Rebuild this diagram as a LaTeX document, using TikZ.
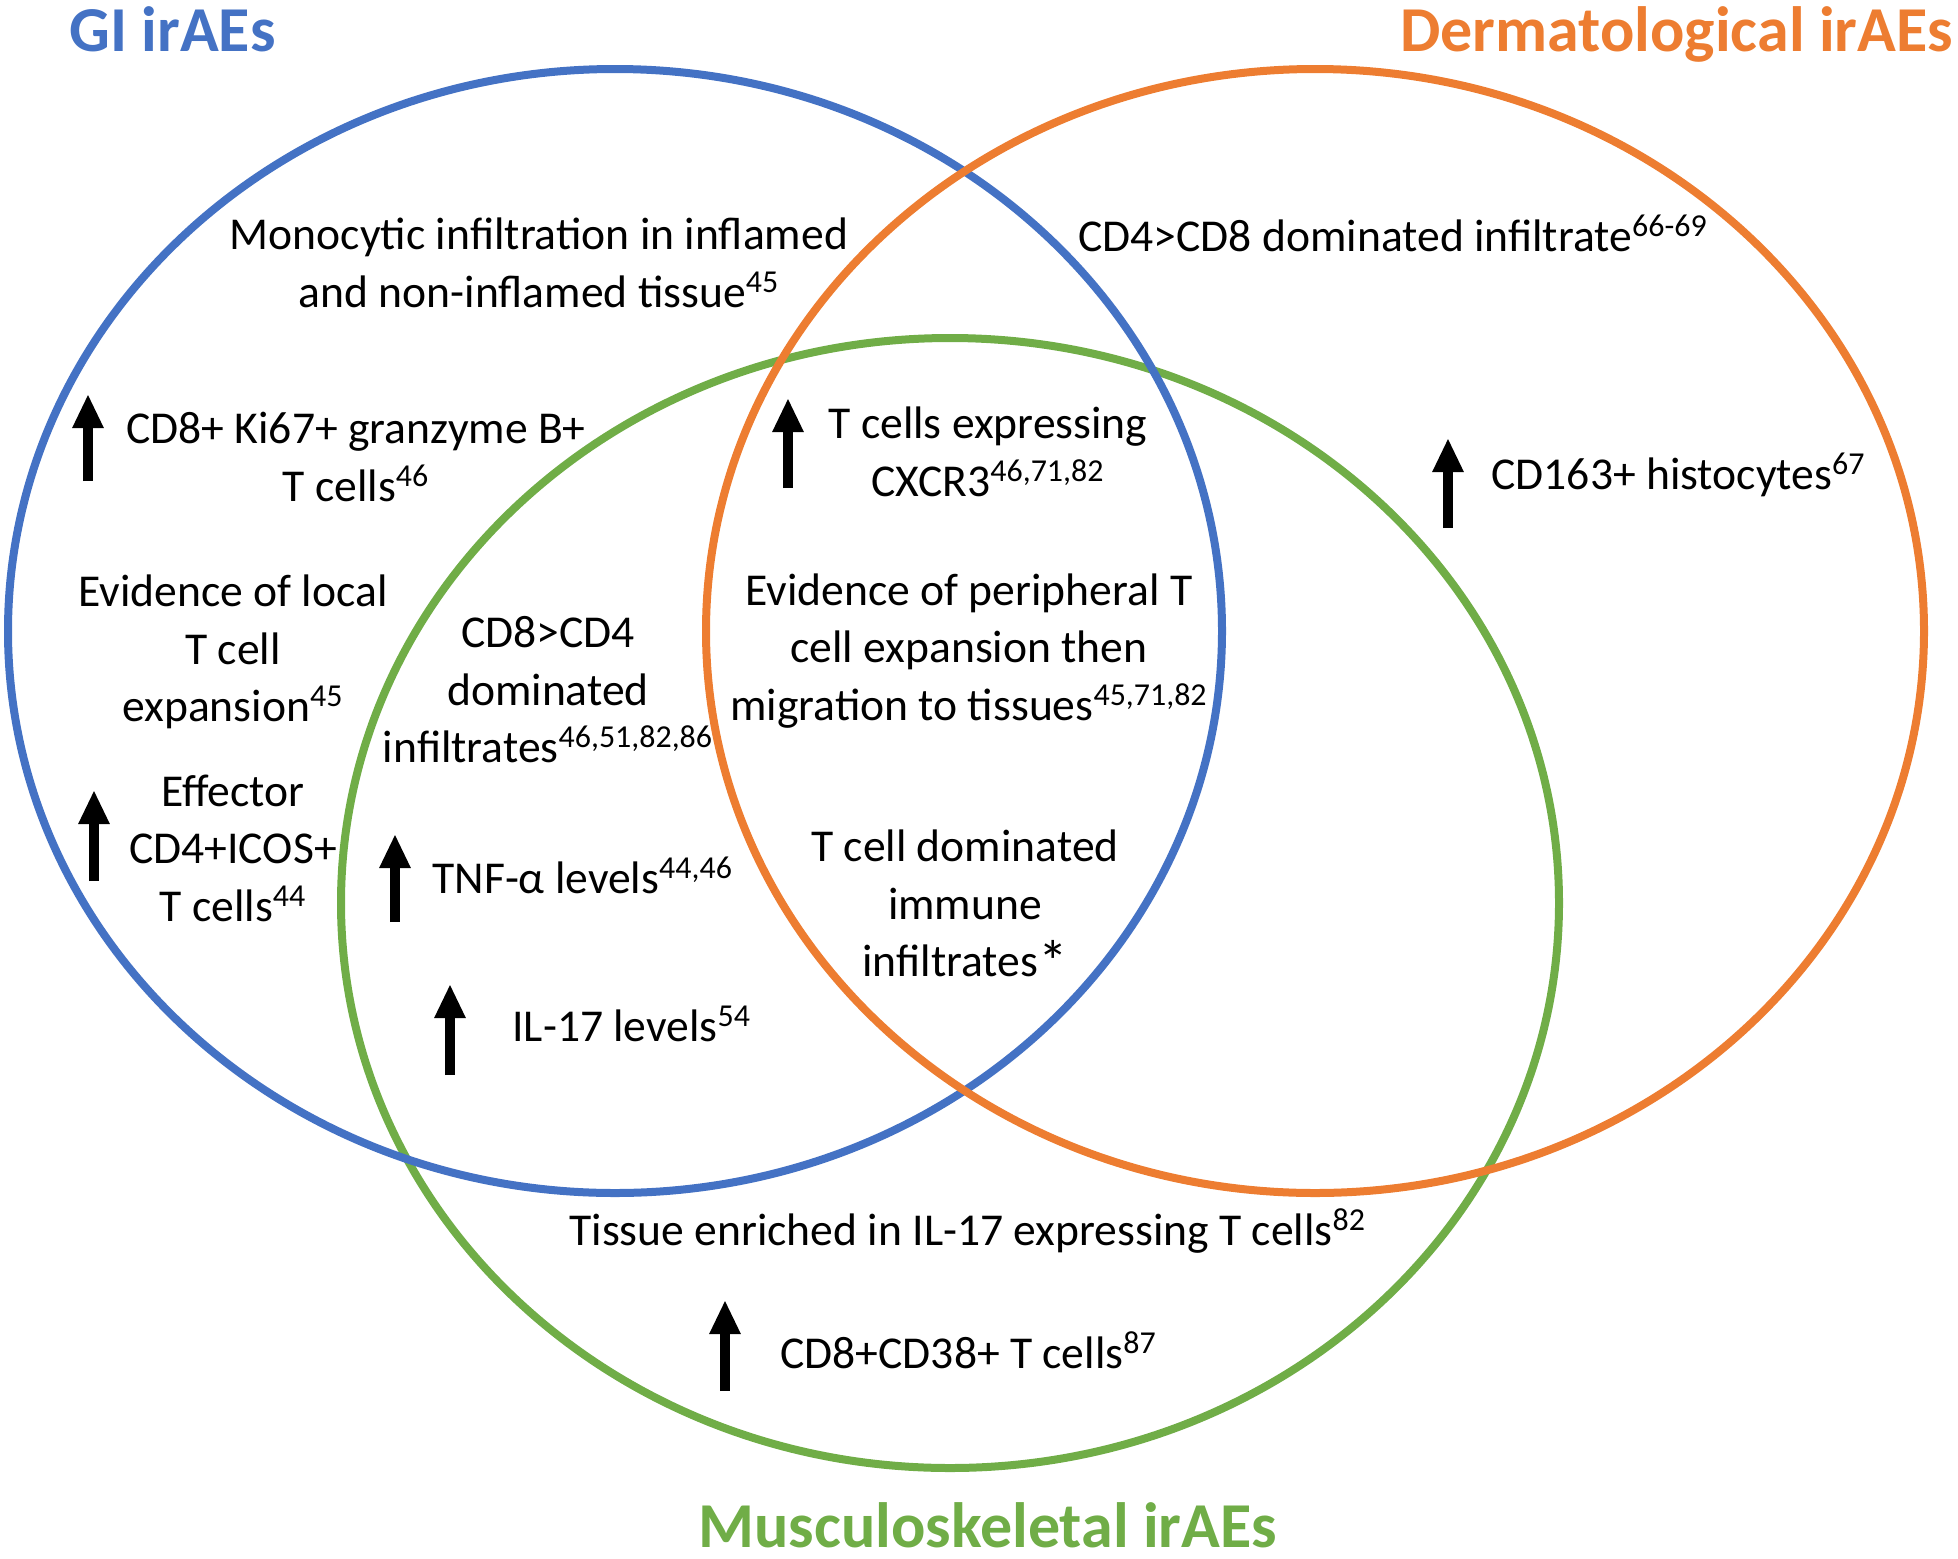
\documentclass[tikz,border=0pt]{standalone}
\usepackage{fontspec}
\setmainfont{Carlito}
\usepackage{tikz}
\usetikzlibrary{arrows.meta,positioning}
\definecolor{giblue}{HTML}{4472C4}
\definecolor{dermorange}{HTML}{ED7D31}
\definecolor{muscgreen}{HTML}{70AD47}
\newcommand{\bodyfont}{\fontsize{22.8pt}{28.75pt}\selectfont}
\newcommand{\titlefont}{\fontsize{32pt}{38pt}\selectfont\bfseries}
\newcommand{\refs}[1]{\textsuperscript{#1}}
\newcommand{\bigstar}{\raisebox{-0.12em}{\scalebox{1.3}{*}}}
\tikzstyle{ring} = [draw, line width=4pt]
\tikzstyle{finding} = [align=center, font=\bodyfont, inner sep=0pt]
\tikzstyle{title} = [font=\titlefont, inner sep=0pt, anchor=base west]
\tikzstyle{rise} = [draw, line width=5pt, -{Triangle[length=17pt,width=14.5pt]}]

\begin{document}
\begin{tikzpicture}[x=0.5pt,y=-0.5pt]

         \useasboundingbox (0,0) rectangle (1958,1558);

         % the three sets
         \draw [ring, muscgreen]  (950,903) ellipse [x radius=609, y radius=565];
         \draw [ring, giblue]     (615,631) ellipse [x radius=607, y radius=562];
         \draw [ring, dermorange] (1315,631) ellipse [x radius=609, y radius=562];

         \node (giTitle)   [title, giblue]     at (69,51)    {GI irAEs};
         \node (dermTitle) [title, dermorange] at (1400,51)  {Dermatological irAEs};
         \node (muscTitle) [title, muscgreen]  at (698,1547) {Musculoskeletal irAEs};

         % GI only
         \node (mono)  [finding] at (539,263) {Monocytic infiltration in inflamed\\ and non-inflamed tissue\refs{45}};
         \node (kiSix) [finding] at (356,457) {CD8+ Ki67+ granzyme B+\\ T cells\refs{46}};
         \node (local) [finding] at (233,652) {Evidence of local\\ T cell\\ expansion\refs{45}};
         \node (icos)  [finding] at (233,848) {Effector\\ CD4+ICOS+\\ T cells\refs{44}};

         % dermatological only
         \node (cdFour) [finding, anchor=base] at (1393,251.5) {CD4>CD8 dominated infiltrate\refs{66-69}};
         \node (histo)  [finding, anchor=base west] at (1491,489.5) {CD163+ histocytes\refs{67}};

         % GI and musculoskeletal
         \node (cdEight) [finding] at (548,690) {CD8>CD4\\ dominated\\ infiltrates\refs{46,51,82,86}};
         \node (tnf)     [finding, anchor=base west] at (432,893.5) {TNF-α levels\refs{44,46}};
         \node (ilSeven) [finding, anchor=base west] at (512,1041.5) {IL-17 levels\refs{54}};

         % all three
         \node (cxcr)   [finding] at (988,452) {T cells expressing\\ CXCR3\refs{46,71,82}};
         \node (periph) [finding] at (969,651) {Evidence of peripheral T\\ cell expansion then\\ migration to tissues\refs{45,71,82}};
         \node (tdom)   [finding] at (965,906) {T cell dominated\\ immune\\ infiltrates\bigstar};

         % musculoskeletal only
         \node (tissue)        [finding, anchor=base west] at (569,1245.5) {Tissue enriched in IL-17 expressing T cells\refs{82}};
         \node (cdThirtyEight) [finding, anchor=base west] at (780,1368.5) {CD8+CD38+ T cells\refs{87}};

         % up arrows
         \coordinate (kiSix-foot) at (88,481);   \coordinate (kiSix-head) at (88,394);
         \coordinate (cxcr-foot)  at (788,488);  \coordinate (cxcr-head)  at (788,398);
         \coordinate (histo-foot) at (1448,528); \coordinate (histo-head) at (1448,438);
         \coordinate (icos-foot)  at (94,881);   \coordinate (icos-head)  at (94,790);
         \coordinate (tnf-foot)   at (395,922);  \coordinate (tnf-head)   at (395,834);
         \coordinate (ilSeven-foot) at (450,1075); \coordinate (ilSeven-head) at (450,984);
         \coordinate (cdThirtyEight-foot) at (725,1391); \coordinate (cdThirtyEight-head) at (725,1300);

         \path [rise] (kiSix-foot) -- (kiSix-head);
         \path [rise] (cxcr-foot) -- (cxcr-head);
         \path [rise] (histo-foot) -- (histo-head);
         \path [rise] (icos-foot) -- (icos-head);
         \path [rise] (tnf-foot) -- (tnf-head);
         \path [rise] (ilSeven-foot) -- (ilSeven-head);
         \path [rise] (cdThirtyEight-foot) -- (cdThirtyEight-head);

     \end{tikzpicture}
\end{document}
